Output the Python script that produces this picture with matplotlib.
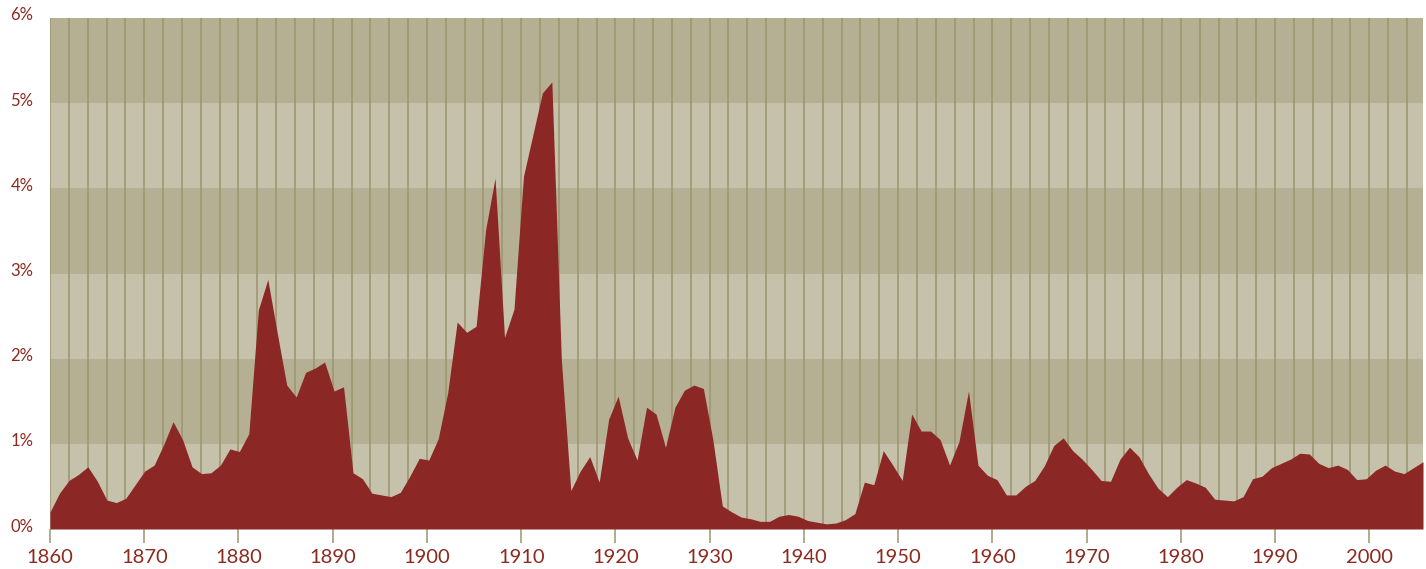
import matplotlib.pyplot as plt
import matplotlib.transforms as mtransforms
import numpy as np

# yearly values, percent, 1860 - 2005
years = np.arange(1860, 2006)
values = [
    0.20, 0.42, 0.57, 0.64, 0.73, 0.56, 0.34, 0.31, 0.36, 0.52,  # 1860s
    0.68, 0.75, 0.99, 1.26, 1.05, 0.73, 0.65, 0.66, 0.75, 0.94,  # 1870s
    0.91, 1.12, 2.57, 2.93, 2.30, 1.69, 1.55, 1.84, 1.89, 1.96,  # 1880s
    1.62, 1.67, 0.66, 0.59, 0.42, 0.40, 0.38, 0.43, 0.62, 0.83,  # 1890s
    0.81, 1.06, 1.60, 2.43, 2.31, 2.38, 3.51, 4.12, 2.25, 2.58,  # 1900s
    4.14, 4.63, 5.12, 5.25, 1.99, 0.45, 0.68, 0.85, 0.55, 1.29,  # 1910s
    1.56, 1.07, 0.81, 1.43, 1.35, 0.96, 1.43, 1.63, 1.69, 1.65,  # 1920s
    1.05, 0.27, 0.20, 0.14, 0.12, 0.09, 0.09, 0.15, 0.17, 0.15,  # 1930s
    0.10, 0.08, 0.06, 0.07, 0.11, 0.18, 0.55, 0.52, 0.92, 0.75,  # 1940s
    0.57, 1.35, 1.15, 1.15, 1.05, 0.75, 1.03, 1.62, 0.75, 0.63,  # 1950s
    0.58, 0.40, 0.40, 0.50, 0.57, 0.74, 0.98, 1.07, 0.92, 0.82,  # 1960s
    0.70, 0.57, 0.56, 0.82, 0.96, 0.85, 0.65, 0.48, 0.38, 0.49,  # 1970s
    0.58, 0.54, 0.49, 0.35, 0.34, 0.33, 0.38, 0.59, 0.62, 0.72,  # 1980s
    0.77, 0.82, 0.89, 0.88, 0.77, 0.72, 0.75, 0.70, 0.58, 0.59,  # 1990s
    0.69, 0.75, 0.68, 0.65, 0.72, 0.79,                          # 2000s
]
y_ticks = [0, 1, 2, 3, 4, 5, 6]
x_ticks = list(range(1860, 2001, 10))

light = "#c5c1aa"
dark = "#b5af93"
grid = "#9a946f"
red = "#8b2724"
text_red = "#8b2a1e"

fig = plt.figure(figsize=(14.26, 5.69), dpi=100)
pos = [50 / 1426, 40 / 569, 1373 / 1426, 511 / 569]

# background: bands, grid, ticks
ax = fig.add_axes(pos)
ax.set_xlim(1860, 2005.7)
ax.set_ylim(0, 6)
for k in range(6):
    ax.axhspan(k, k + 1, color=light if k % 2 == 0 else dark, lw=0)
for yr in range(1860, 2006, 2):
    ax.axvline(yr, color=grid, lw=1.1)
for s in ax.spines.values():
    s.set_visible(False)
ax.set_xticks(x_ticks)
ax.set_xticklabels([str(t) for t in x_ticks])
ax.set_yticks(y_ticks)
ax.set_yticklabels([f"{t}%" for t in y_ticks])
ax.tick_params(axis="x", length=10, width=1.1, color=grid, pad=4.5,
               labelsize=14.5, labelcolor=text_red)
ax.tick_params(axis="y", length=0, pad=12, labelsize=12, labelcolor=text_red)
for lab in ax.get_xticklabels() + ax.get_yticklabels():
    lab.set_family("Lato")
# y labels sit a little above their gridline
up = mtransforms.ScaledTranslation(0, 4 / 100, fig.dpi_scale_trans)
for lab in ax.get_yticklabels():
    lab.set_transform(lab.get_transform() + up)

# data on top, points spread over the full width
ax2 = fig.add_axes(pos)
ax2.set_xlim(1860, 2005)
ax2.set_ylim(0, 6)
ax2.fill_between(years, values, 0, color=red, lw=0)
ax2.axis("off")

plt.savefig("out.png", dpi=100)
